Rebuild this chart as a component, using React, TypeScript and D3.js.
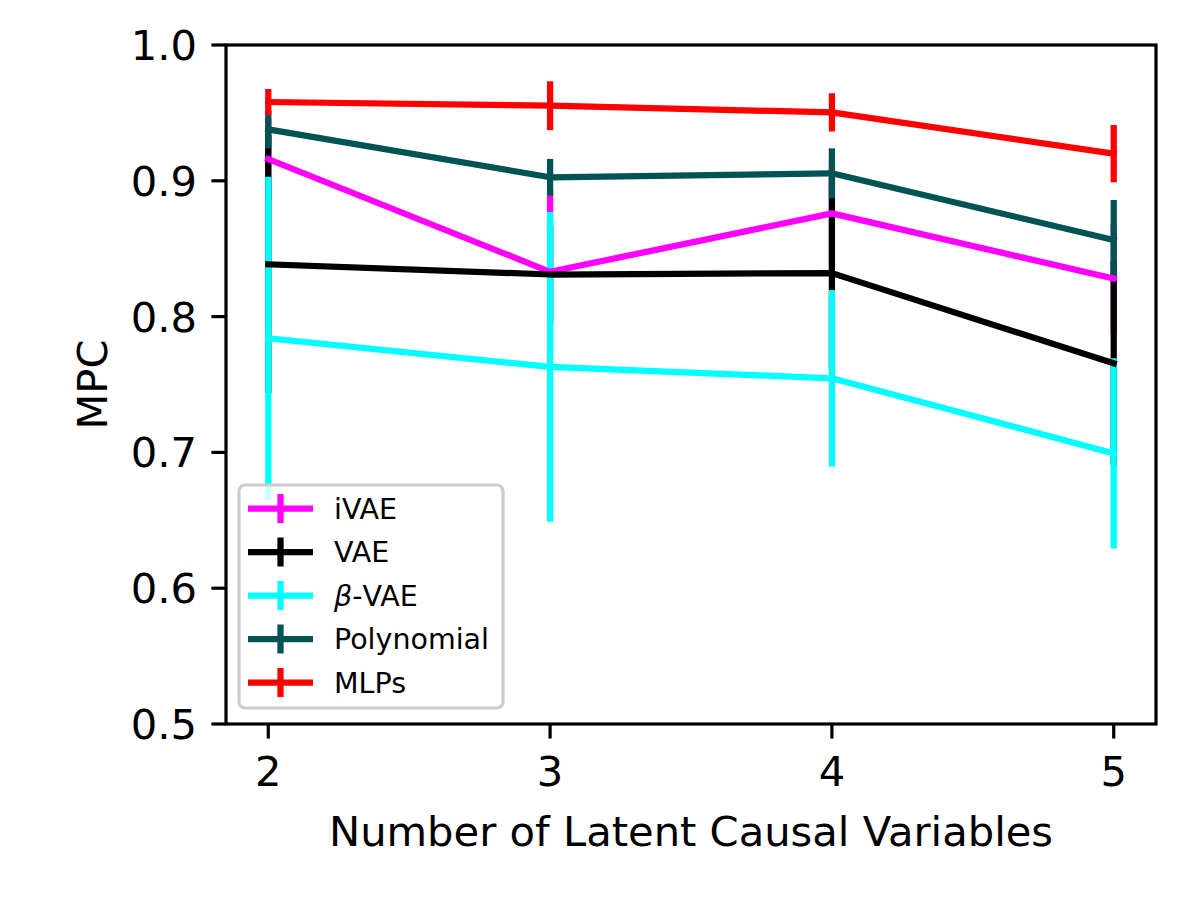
import React from "react";
import * as d3 from "d3";

const xs = [2, 3, 4, 5];
const xTicks = [2, 3, 4, 5];
const yTicks = [0.5, 0.6, 0.7, 0.8, 0.9, 1.0];

const ivaeMean = [0.916, 0.833, 0.876, 0.828];
const ivaeErr = [0.03, 0.06, 0.04, 0.04];
const vaeMean = [0.8385, 0.831, 0.832, 0.7656];
const vaeErr = [0.095, 0.035, 0.07, 0.075];
const betaMean = [0.784, 0.763, 0.7546, 0.6993];
const betaErr = [0.119, 0.114, 0.065, 0.07];
const polyMean = [0.9379, 0.9026, 0.9055, 0.8564];
const polyErr = [0.014, 0.0135, 0.0184, 0.0295];
const mlpMean = [0.958, 0.9553, 0.9504, 0.92];
const mlpErr = [0.0096, 0.018, 0.0141, 0.0211];

const seriesNames = ["iVAE", "VAE", "β-VAE", "Polynomial", "MLPs"];
const seriesColors = ["#ff00ff", "#000000", "#00ffff", "#025353", "#ff0000"];

const series = [
  { name: seriesNames[0], color: seriesColors[0], mean: ivaeMean, err: ivaeErr },
  { name: seriesNames[1], color: seriesColors[1], mean: vaeMean, err: vaeErr },
  { name: seriesNames[2], color: seriesColors[2], mean: betaMean, err: betaErr },
  { name: seriesNames[3], color: seriesColors[3], mean: polyMean, err: polyErr },
  { name: seriesNames[4], color: seriesColors[4], mean: mlpMean, err: mlpErr },
];

const W = 1200;
const H = 900;
const left = 226;
const right = 1156;
const top = 45;
const bottom = 724;
const FONT = "DejaVu Sans, sans-serif";
const LW = 6.25;

export default function App() {
  const x = d3.scaleLinear().domain([1.85, 5.15]).range([left, right]);
  const y = d3.scaleLinear().domain([0.5, 1.0]).range([bottom, top]);
  const line = d3
    .line<number>()
    .x((_, i) => x(xs[i]))
    .y((d) => y(d));

  const fs = 41.67;
  const legendFs = 28.5;
  const legendX = 239;
  const legendY = 485;
  const legendW = 264;
  const legendH = 223;
  const rowY0 = 508.5;
  const rowDy = 43.5;

  return (
    <div style={{ position: "absolute", left: 0, top: 0 }}>
      <svg width={W} height={H} xmlns="http://www.w3.org/2000/svg" style={{ display: "block", background: "#fff" }}>
        <rect x={0} y={0} width={W} height={H} fill="#fff" />
        {/* error bars */}
        {series.map((s, si) =>
          s.mean.map((m, i) => (
            <line
              key={`eb-${si}-${i}`}
              x1={x(xs[i])}
              x2={x(xs[i])}
              y1={y(m - s.err[i])}
              y2={y(m + s.err[i])}
              stroke={s.color}
              strokeWidth={LW}
            />
          ))
        )}
        {/* data lines */}
        {series.map((s, si) => (
          <path
            key={`ln-${si}`}
            d={line(s.mean) || ""}
            fill="none"
            stroke={s.color}
            strokeWidth={LW}
            strokeLinejoin="round"
            strokeLinecap="square"
          />
        ))}
        {/* axes frame */}
        <rect x={left} y={top} width={right - left} height={bottom - top} fill="none" stroke="#000" strokeWidth={3.2} />
        {/* y ticks */}
        {yTicks.map((t) => (
          <g key={`yt-${t}`}>
            <line x1={left - 14.6} x2={left} y1={y(t)} y2={y(t)} stroke="#000" strokeWidth={3.2} />
            <text x={197} y={y(t) + 15} textAnchor="end" fontFamily={FONT} fontSize={fs} fill="#000">
              {t.toFixed(1)}
            </text>
          </g>
        ))}
        {/* x ticks */}
        {xTicks.map((t) => (
          <g key={`xt-${t}`}>
            <line x1={x(t)} x2={x(t)} y1={bottom} y2={bottom + 14.6} stroke="#000" strokeWidth={3.2} />
            <text x={x(t)} y={786} textAnchor="middle" fontFamily={FONT} fontSize={fs} fill="#000">
              {t}
            </text>
          </g>
        ))}
        <text x={(left + right) / 2} y={846} textAnchor="middle" fontFamily={FONT} fontSize={fs} fill="#000">
          Number of Latent Causal Variables
        </text>
        <text
          transform={`translate(107, ${(top + bottom) / 2}) rotate(-90)`}
          textAnchor="middle"
          fontFamily={FONT}
          fontSize={fs}
          fill="#000"
        >
          MPC
        </text>
        {/* legend */}
        <rect
          x={legendX}
          y={legendY}
          width={legendW}
          height={legendH}
          rx={6}
          ry={6}
          fill="#fff"
          fillOpacity={0.8}
          stroke="#cccccc"
          strokeWidth={3.2}
        />
        {series.map((s, si) => {
          const cy = rowY0 + si * rowDy;
          return (
            <g key={`lg-${si}`}>
              <line x1={248} x2={313} y1={cy} y2={cy} stroke={s.color} strokeWidth={LW} />
              <line x1={280.5} x2={280.5} y1={cy - 14.5} y2={cy + 14.5} stroke={s.color} strokeWidth={LW} />
              <text x={334} y={cy + 10} fontFamily={FONT} fontSize={legendFs} fill="#000">
                {si === 2 ? (
                  <>
                    <tspan fontStyle="italic">β</tspan>
                    <tspan>-VAE</tspan>
                  </>
                ) : (
                  s.name
                )}
              </text>
            </g>
          );
        })}
      </svg>
    </div>
  );
}
